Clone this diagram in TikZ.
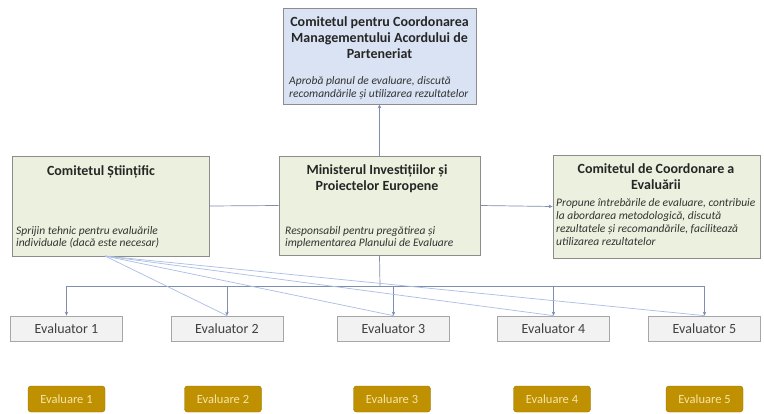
\documentclass[tikz,border=0pt]{standalone}
\usepackage{fontspec}
\setmainfont{Carlito}
\usetikzlibrary{arrows.meta}
\definecolor{blueFill}{HTML}{DAE3F3}
\definecolor{greenFill}{HTML}{EBF1DE}
\definecolor{boxLine}{HTML}{8C8C8C}
\definecolor{evFill}{HTML}{F2F2F2}
\definecolor{evLine}{HTML}{A6A6A6}
\definecolor{gold}{HTML}{BF9000}
\definecolor{goldText}{HTML}{F5E6A8}
\definecolor{conn}{HTML}{7F8DAE}
\definecolor{fan}{HTML}{A9BDE6}
\begin{document}
\begin{tikzpicture}[x=1pt,y=-1pt,
  bigbox/.style={draw=boxLine,line width=0.8pt,inner sep=0pt},
  title/.style={inner sep=0pt,align=center,font=\fontsize{14}{16}\selectfont\bfseries,text=black!85},
  desc/.style={inner sep=0pt,align=left,anchor=west,font=\fontsize{11.5}{13}\selectfont\itshape,text=black!80},
  evbox/.style={draw=evLine,fill=evFill,line width=0.7pt,minimum width=112pt,minimum height=25pt,inner sep=0pt,font=\fontsize{14}{16}\selectfont,text=black!75},
  gbox/.style={fill=gold,draw=gold!80!black,rounded corners=3pt,minimum width=77pt,minimum height=26pt,inner sep=0pt,font=\fontsize{12.5}{14}\selectfont,text=goldText},
  con/.style={draw=conn,line width=0.7pt},
  arr/.style={con,-{Stealth[length=4pt,width=3.5pt]}},
  fanline/.style={draw=fan,line width=0.7pt}
]
\useasboundingbox (0,0) rectangle (764,413);
\fill[white] (0,0) rectangle (764,413);

% boxes
\node[bigbox,fill=blueFill,minimum width=193pt,minimum height=96pt] (cpm) at (379.5,56) {};
\node[bigbox,fill=greenFill,minimum width=197pt,minimum height=100pt] (cs) at (110.5,206) {};
\node[bigbox,fill=greenFill,minimum width=201pt,minimum height=99pt] (mipe) at (379.5,205.5) {};
\node[bigbox,fill=greenFill,minimum width=207pt,minimum height=103pt] (cce) at (656.5,206.5) {};

% texts
\node[title] (cpmT) at (379.5,38) {Comitetul pentru Coordonarea\\Managementului Acordului de\\Parteneriat};
\node[desc] (cpmD) at (289,88.5) {Aprobă planul de evaluare, discută\\recomandările și utilizarea rezultatelor};

\node[title] (csT) at (101,172) {Comitetul Științific};
\node[desc,font=\fontsize{11.5}{12}\selectfont\itshape] (csD) at (16,237) {Sprijin tehnic pentru evaluările\\individuale (dacă este necesar)};

\node[title] (mipeT) at (377,178.5) {Ministerul Investițiilor și\\Proiectelor Europene};
\node[desc,font=\fontsize{11.5}{12}\selectfont\itshape] (mipeD) at (285,237.5) {Responsabil pentru pregătirea și\\implementarea Planului de Evaluare};

\node[title] (cceT) at (656,177) {Comitetul de Coordonare a\\Evaluării};
\node[desc] (cceD) at (556,222.5) {Propune întrebările de evaluare, contribuie\\la abordarea metodologică, discută\\rezultatele și recomandările, facilitează\\utilizarea rezultatelor};

% evaluators
\node[evbox] (e1) at (66.5,328.5) {Evaluator 1};
\node[evbox] (e2) at (227,328.5) {Evaluator 2};
\node[evbox] (e3) at (393.5,328.5) {Evaluator 3};
\node[evbox] (e4) at (553.5,328.5) {Evaluator 4};
\node[evbox] (e5) at (704.5,328.5) {Evaluator 5};

\node[gbox] (g1) at (66.5,399) {Evaluare 1};
\node[gbox] (g2) at (223,399) {Evaluare 2};
\node[gbox] (g3) at (392,399) {Evaluare 3};
\node[gbox] (g4) at (552,399) {Evaluare 4};
\node[gbox] (g5) at (704.5,399) {Evaluare 5};

% connectors
\draw[arr] (mipe.north) -- (cpm.south);
\draw[con] (cs.east) -- (mipe.west);
\draw[arr] (mipe.east) -- (cce.west);

\coordinate (busT) at (380,286);
\coordinate (busL) at (66.5,286);
\coordinate (busR) at (704.5,286);
\draw[con] (mipe.south) -- (busT);
\draw[con] (busL) -- (busR);
\draw[arr] (busL) -- (e1.north);
\draw[arr] (e2.north |- busL) -- (e2.north);
\draw[arr] (e3.north |- busL) -- (e3.north);
\draw[arr] (e4.north |- busL) -- (e4.north);
\draw[arr] (busR) -- (e5.north);

\coordinate (fanS) at (105,256);
\draw[fanline] (fanS) -- (e2.north);
\draw[fanline] (fanS) -- (e3.north);
\draw[fanline] (fanS) -- (e4.north);
\draw[fanline] (fanS) -- (e5.north);
\end{tikzpicture}
\end{document}
